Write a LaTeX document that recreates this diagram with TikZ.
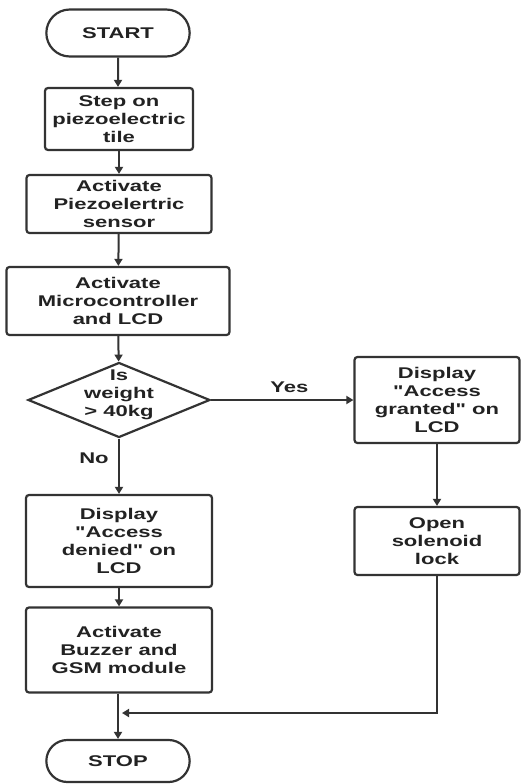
\documentclass[tikz,border=0pt]{standalone}
\usepackage{fontspec}
\newfontfamily\diafont{Liberation Sans}[FakeStretch=1.42]
\usetikzlibrary{shapes.geometric,shapes.misc,arrows.meta}
\definecolor{ln}{HTML}{333333}
\definecolor{tx}{HTML}{222222}
\begin{document}
\begin{tikzpicture}[x=1pt,y=-1pt,
  txt/.style={font=\diafont\bfseries\fontsize{15.5}{18}\selectfont, text=tx, align=center},
  procbox/.style={txt, draw=ln, line width=2.2pt, rounded corners=3pt, fill=white, inner sep=2pt},
  term/.style={txt, draw=ln, line width=2.2pt, rounded rectangle, fill=white, minimum width=150pt, minimum height=47pt},
  decision/.style={draw=ln, line width=2.2pt, diamond, minimum width=182pt, minimum height=75pt, inner sep=0pt},
  conn/.style={draw=ln, line width=2pt, -{Triangle[length=7pt,width=8pt]}},
  lbl/.style={txt}
]
\useasboundingbox (0,0) rectangle (521,784);

\node[term] (start) at (118,33) {START};
\node[procbox, minimum width=148pt, minimum height=62pt] (step) at (119,119) {Step on\\piezoelectric\\tile};
\node[procbox, minimum width=185pt, minimum height=58pt] (piezo) at (119,204) {Activate\\Piezoelertric\\sensor};
\node[procbox, minimum width=223pt, minimum height=68pt] (micro) at (118,301) {Activate\\Microcontroller\\and LCD};
\node[decision] (dec) at (119,400) {};
\node[txt] (dectext) at (119,395) {Is\\weight\\> 40kg};
\node[procbox, minimum width=165pt, minimum height=86pt] (granted) at (437,400) {Display\\"Access\\granted" on\\LCD};
\node[procbox, minimum width=186pt, minimum height=92pt] (denied) at (119,541) {Display\\"Access\\denied" on\\LCD};
\node[procbox, minimum width=165pt, minimum height=68pt] (sol) at (437,541) {Open\\solenoid\\lock};
\node[procbox, minimum width=186pt, minimum height=85pt] (buzz) at (119,650) {Activate\\Buzzer and\\GSM module};
\node[term, minimum height=42pt] (stop) at (118,761) {STOP};
\coordinate (merge) at (122,713);

\draw[conn] (start) -- (start |- step.north);
\draw[conn] (step) -- (piezo);
\draw[conn] (piezo) -- (micro);
\draw[conn] (micro) -- (dec);
\draw[conn] (dec.east) -- node[lbl, above=3pt, pos=0.55] (yes) {Yes} (granted.west);
\draw[conn] (dec.south) -- node[lbl, left=6pt, pos=0.35] (no) {No} (dec.south |- denied.north);
\draw[conn] (granted) -- (sol);
\draw[conn] (denied) -- (buzz);
\draw[conn] (buzz.south -| stop) -- (stop.north);
\draw[conn] (sol.south) |- (merge);
\end{tikzpicture}
\end{document}
